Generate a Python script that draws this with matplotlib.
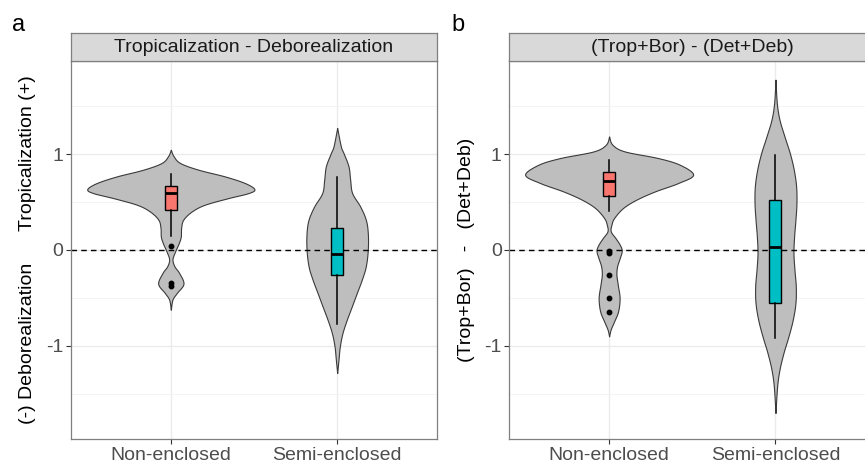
import numpy as np
import matplotlib
matplotlib.use("Agg")
import matplotlib.pyplot as plt
from matplotlib.ticker import MultipleLocator

plt.rcParams['font.family'] = ['Liberation Sans', 'DejaVu Sans']

# ---------------- data ----------------
categories = ["Non-enclosed", "Semi-enclosed"]
panel_titles = ["Tropicalization - Deborealization", "(Trop+Bor) - (Det+Deb)"]
panel_letters = ["a", "b"]
ylabels = ["(-) Deborealization      Tropicalization (+)",
           "(Trop+Bor)   -   (Det+Deb)"]
yticks = [-1, 0, 1]
box_colors = ["#F8766D", "#00BFC4"]

# violin outlines: y values and half-widths (x units)
a_non_y = [1.048, 0.982, 0.909, 0.839, 0.769, 0.700, 0.637, 0.595, 0.543, 0.473, 0.403,
           0.317, 0.230, 0.142, 0.073, -0.031, -0.101, -0.171, -0.240, -0.352, -0.449,
           -0.519, -0.624]
a_non_w = [0, 0.016, 0.056, 0.166, 0.325, 0.445, 0.502, 0.467, 0.347, 0.204, 0.126,
           0.075, 0.062, 0.060, 0.048, 0.022, 0.010, 0.022, 0.050, 0.076, 0.036, 0.010, 0]
a_semi_y = [1.275, 1.083, 1.013, 0.874, 0.735, 0.595, 0.456, 0.317, 0.178, 0.003, -0.171,
            -0.310, -0.449, -0.589, -0.728, -0.867, -1.007, -1.146, -1.285]
a_semi_w = [0, 0.022, 0.038, 0.068, 0.078, 0.090, 0.138, 0.172, 0.184, 0.184, 0.172,
            0.148, 0.118, 0.088, 0.058, 0.032, 0.016, 0.008, 0]
b_non_y = [1.187, 1.100, 1.030, 0.961, 0.891, 0.787, 0.700, 0.612, 0.526, 0.439, 0.334,
           0.264, 0.195, 0.125, 0.055, -0.007, -0.084, -0.171, -0.258, -0.363, -0.502,
           -0.641, -0.746, -0.833, -0.903]
b_non_w = [0, 0.020, 0.094, 0.294, 0.425, 0.505, 0.415, 0.275, 0.164, 0.084, 0.030,
           0.014, 0.010, 0.038, 0.064, 0.076, 0.064, 0.048, 0.044, 0.052, 0.063, 0.054,
           0.030, 0.009, 0]
b_semi_y = [1.780, 1.536, 1.362, 1.187, 1.013, 0.839, 0.665, 0.491, 0.317, 0.142, -0.031,
            -0.206, -0.380, -0.554, -0.728, -0.903, -1.076, -1.251, -1.425, -1.703]
b_semi_w = [0, 0.008, 0.024, 0.054, 0.086, 0.110, 0.124, 0.126, 0.120, 0.112, 0.108,
            0.114, 0.122, 0.120, 0.104, 0.078, 0.048, 0.024, 0.010, 0]

# boxplot statistics: whislo, q1, median, q3, whishi
a_non_box = [0.142, 0.421, 0.595, 0.665, 0.797]
a_semi_box = [-0.770, -0.265, -0.042, 0.230, 0.763]
b_non_box = [0.411, 0.560, 0.724, 0.811, 0.936]
b_semi_box = [-0.920, -0.554, 0.027, 0.526, 0.993]
a_non_out = [0.038, -0.34, -0.38]
a_semi_out = []
b_non_out = [-0.01, -0.03, -0.26, -0.50, -0.65]
b_semi_out = []

panels = [
    [(a_non_y, a_non_w, a_non_box, a_non_out), (a_semi_y, a_semi_w, a_semi_box, a_semi_out)],
    [(b_non_y, b_non_w, b_non_box, b_non_out), (b_semi_y, b_semi_w, b_semi_box, b_semi_out)],
]


def catmull(ys, ws, n=16):
    P = np.column_stack([ys, ws]).astype(float)
    P = np.vstack([P[0], P, P[-1]])
    out = []
    t = np.linspace(0, 1, n, endpoint=False)[:, None]
    for i in range(1, len(P) - 2):
        p0, p1, p2, p3 = P[i - 1], P[i], P[i + 1], P[i + 2]
        seg = 0.5 * ((2 * p1) + (-p0 + p2) * t + (2 * p0 - 5 * p1 + 4 * p2 - p3) * t ** 2
                     + (-p0 + 3 * p1 - 3 * p2 + p3) * t ** 3)
        out.append(seg)
    out.append(P[-2][None, :])
    out = np.vstack(out)
    out[:, 1] = np.clip(out[:, 1], 0, None)
    return out[:, 0], out[:, 1]


W, H = 865, 463
fig = plt.figure(figsize=(W / 100, H / 100), dpi=100)

ax_lefts = [71, 509.3]
ax_w = 366
ax_top, ax_bot = 61, 439
strip_top = 33

for k in range(2):
    left = ax_lefts[k] / W
    ax = fig.add_axes([left, (H - ax_bot) / H, ax_w / W, (ax_bot - ax_top) / H])
    sax = fig.add_axes([left, (H - ax_top) / H, ax_w / W, (ax_top - strip_top) / H])

    ax.set_xlim(0.4, 2.6)
    ax.set_ylim(-1.975, 1.975)
    ax.set_yticks(yticks)
    ax.set_yticklabels([str(v) for v in yticks])
    ax.yaxis.set_minor_locator(MultipleLocator(0.5))
    ax.set_xticks([1, 2])
    ax.set_xticklabels(categories)
    ax.grid(True, which='major', color='#EBEBEB', lw=1.0, zorder=0)
    ax.grid(True, which='minor', axis='y', color='#F2F2F2', lw=0.6, zorder=0)
    ax.set_axisbelow(True)
    ax.tick_params(which='major', length=3.5, width=0.8, color='#333333',
                   labelsize=14, labelcolor='#4D4D4D', pad=2)
    ax.tick_params(which='minor', length=0)
    for s in ax.spines.values():
        s.set_color('#7F7F7F')
        s.set_linewidth(0.9)

    ax.axhline(0, color='black', ls=(0, (4, 3)), lw=1.0, zorder=2)

    for j, (vy, vw, bs, outs) in enumerate(panels[k]):
        pos = j + 1
        yy, ww = catmull(vy, vw)
        ax.fill_betweenx(yy, pos - ww, pos + ww, facecolor='#BEBEBE',
                         edgecolor='#3A3A3A', lw=0.8, zorder=1.5)
        stats = [dict(whislo=bs[0], q1=bs[1], med=bs[2], q3=bs[3], whishi=bs[4],
                      fliers=outs)]
        ax.bxp(stats, positions=[pos], widths=0.072, patch_artist=True,
               showcaps=False, manage_ticks=False,
               boxprops=dict(facecolor=box_colors[j], edgecolor='black', lw=1.0),
               medianprops=dict(color='black', lw=2.0),
               whiskerprops=dict(color='black', lw=1.1),
               flierprops=dict(marker='o', markerfacecolor='black',
                               markeredgecolor='black', markersize=3.2),
               zorder=3)
    ax.set_ylabel(ylabels[k], fontsize=14, color='black', labelpad=7)

    sax.set_facecolor('#D9D9D9')
    sax.set_xticks([])
    sax.set_yticks([])
    for s in sax.spines.values():
        s.set_color('#7F7F7F')
        s.set_linewidth(0.9)
    sax.text(0.5, 0.47, panel_titles[k], ha='center', va='center', fontsize=14,
             color='#1A1A1A', transform=sax.transAxes)

fig.text(12 / W, 1 - 31 / H, panel_letters[0], fontsize=17, ha='left', va='baseline')
fig.text(451 / W, 1 - 31 / H, panel_letters[1], fontsize=17, ha='left', va='baseline')

fig.savefig("out.png", dpi=100)
